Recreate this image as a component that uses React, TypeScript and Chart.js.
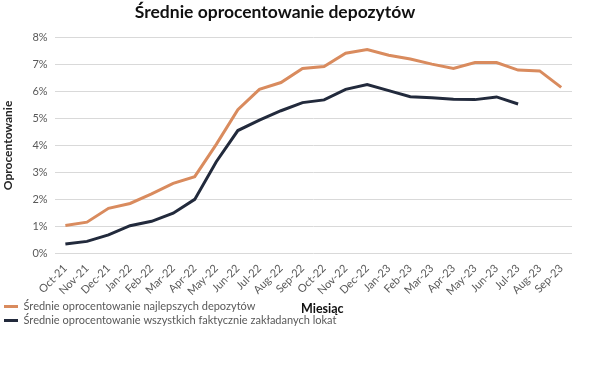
import React, { useEffect, useRef } from "react";
import { Chart, registerables } from "chart.js";

Chart.register(...registerables);

const chartTitle = "Średnie oprocentowanie depozytów";
const xAxisTitle = "Miesiąc";
const yAxisTitle = "Oprocentowanie";

const months = [
  "Oct-21", "Nov-21", "Dec-21", "Jan-22", "Feb-22", "Mar-22", "Apr-22", "May-22",
  "Jun-22", "Jul-22", "Aug-22", "Sep-22", "Oct-22", "Nov-22", "Dec-22", "Jan-23",
  "Feb-23", "Mar-23", "Apr-23", "May-23", "Jun-23", "Jul-23", "Aug-23", "Sep-23",
];

const bestLabel = "Średnie oprocentowanie najlepszych depozytów";
const bestRates = [
  1.05, 1.17, 1.68, 1.86, 2.21, 2.6, 2.85, 4.04, 5.32, 6.07, 6.32, 6.84,
  6.91, 7.4, 7.54, 7.33, 7.19, 7.0, 6.84, 7.06, 7.06, 6.78, 6.75, 6.14,
];

const allLabel = "Średnie oprocentowanie wszystkich faktycznie zakładanych lokat";
const allRates = [
  0.36, 0.46, 0.7, 1.04, 1.2, 1.5, 2.01, 3.4, 4.55, 4.93, 5.28, 5.58,
  5.68, 6.07, 6.25, 6.02, 5.8, 5.76, 5.7, 5.69, 5.79, 5.53, null, null,
];

const FONT = "Lato, 'Open Sans', sans-serif";

const extraText = {
  id: "extraText",
  afterDraw(chart: any) {
    const ctx = chart.ctx;
    ctx.save();
    ctx.fillStyle = "#111111";
    ctx.textAlign = "center";
    ctx.textBaseline = "middle";
    ctx.font = `bold 17.5px ${FONT}`;
    ctx.fillText(chartTitle, 275, 12);
    const xs = chart.scales.x;
    const lg = chart.legend;
    ctx.font = `bold 12.5px ${FONT}`;
    ctx.fillText(xAxisTitle, (xs.left + xs.right) / 2 + 9, lg.top + 11);
    ctx.restore();
  },
};

export default function App() {
  const ref = useRef<HTMLCanvasElement | null>(null);
  useEffect(() => {
    document.body.style.margin = "0";
    const chart = new Chart(ref.current as HTMLCanvasElement, {
      type: "line",
      data: {
        labels: months,
        datasets: [
          {
            label: bestLabel,
            data: bestRates,
            borderColor: "#D98B5E",
            backgroundColor: "#D98B5E",
            borderWidth: 3,
            pointRadius: 0,
            tension: 0,
          },
          {
            label: allLabel,
            data: allRates,
            borderColor: "#222A3C",
            backgroundColor: "#222A3C",
            borderWidth: 3,
            pointRadius: 0,
            tension: 0,
          },
        ],
      },
      options: {
        animation: false,
        responsive: true,
        maintainAspectRatio: false,
        layout: { padding: { top: 37, right: 28, bottom: 49, left: 1 } },
        plugins: {
          title: { display: false },
          tooltip: { enabled: false },
          legend: {
            position: "bottom",
            align: "start",
            labels: {
              usePointStyle: true,
              pointStyle: "line",
              pointStyleWidth: 14,
              boxHeight: 11,
              padding: 3,
              color: "#595959",
              font: { family: FONT, size: 11 },
            },
          },
        },
        scales: {
          x: {
            offset: true,
            grid: { display: false },
            border: { display: false },
            ticks: {
              autoSkip: false,
              minRotation: 45,
              maxRotation: 45,
              padding: 0,
              color: "#595959",
              font: { family: FONT, size: 11 },
            },
          },
          y: {
            min: 0,
            max: 8,
            grid: { color: "#D9D9D9", lineWidth: 1, drawTicks: false },
            border: { display: false },
            ticks: {
              stepSize: 1,
              padding: 7,
              color: "#595959",
              font: { family: FONT, size: 11 },
              callback: (v: any) => `${v}%`,
            },
            title: {
              display: true,
              text: yAxisTitle,
              color: "#262626",
              font: { family: FONT, size: 12, weight: "bold" },
              padding: { top: 0, bottom: 10 },
            },
          },
        },
      },
      plugins: [extraText],
    });
    return () => chart.destroy();
  }, []);
  return (
    <div style={{ position: "fixed", left: 0, top: 0, width: 600, height: 385 }}>
      <canvas ref={ref} />
    </div>
  );
}
